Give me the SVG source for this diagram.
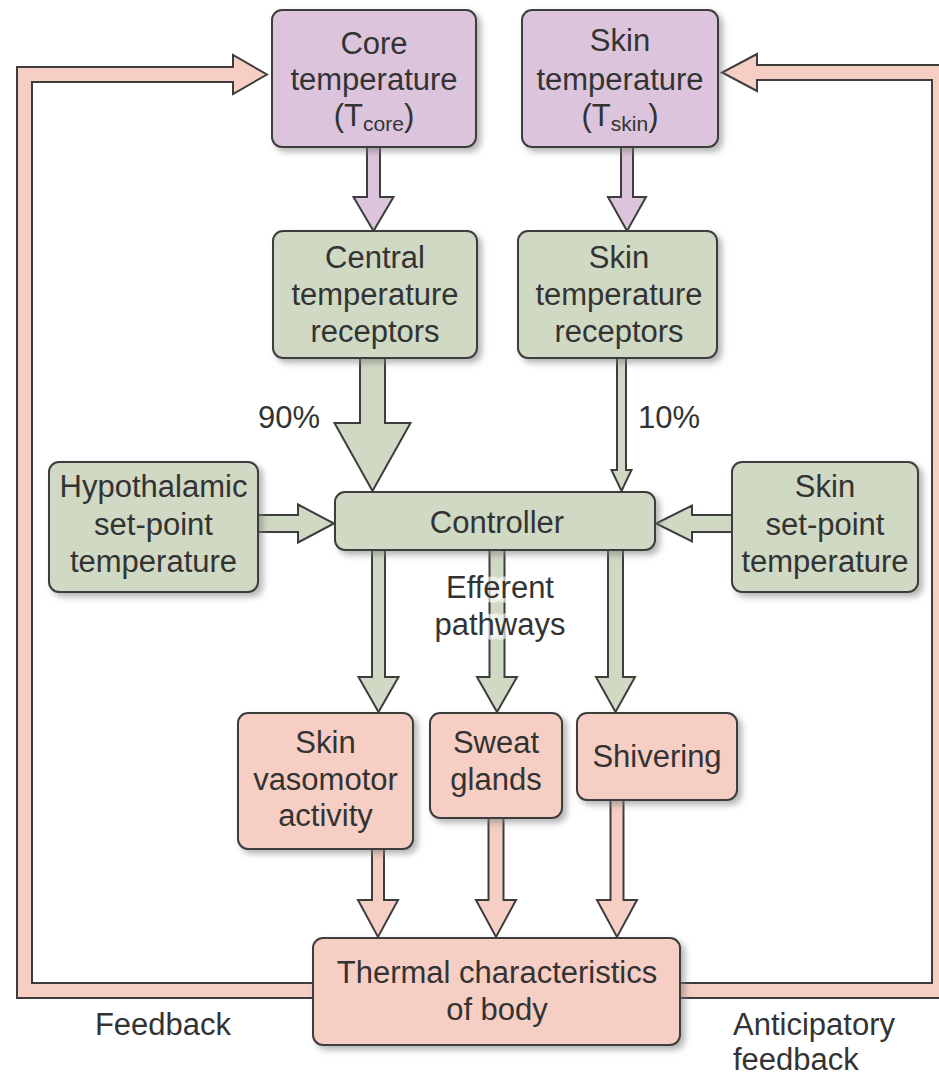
<svg xmlns="http://www.w3.org/2000/svg" width="939" height="1077" viewBox="0 0 939 1077">
<defs>
<filter id="sh" x="-10%" y="-10%" width="130%" height="140%">
<feDropShadow dx="4" dy="4" stdDeviation="3" flood-color="#777" flood-opacity="0.55"/>
</filter>
<style>
.box{stroke:#3d3d3d;stroke-width:2;filter:url(#sh)}
.pur{fill:#dcc4dc}
.grn{fill:#cfd9c3}
.pnk{fill:#f6cec4}
.arr{stroke:#3d3d3d;stroke-width:2;stroke-linejoin:miter}
.ap{fill:#dcc4dc}
.ag{fill:#cfd9c3}
.ak{fill:#f6cec4}
text{font-family:"Liberation Sans",Arial,sans-serif;font-size:31px;fill:#333;text-anchor:middle}
.lab{fill:#333}
.st{text-anchor:start}
.halo{stroke:#fff;stroke-width:9;stroke-opacity:0.65;paint-order:stroke;stroke-linejoin:round}
</style>
</defs>
<rect width="939" height="1077" fill="#fff"/>

<g id="connectors">
<path class="arr ak" d="M320 998 H17 V67 H233 V55 L267 74.5 L233 94 V82 H32 V983 H320 Z"/>
<path class="arr ak" d="M670 998 H947 V65 H757 V54 L722 72.5 L757 91 V80 H932 V983 H670 Z"/>
<path class="arr ap" d="M367 140 V197 H353.5 L373.5 231 L393.5 197 H380 V140 Z"/>
<path class="arr ap" d="M621 140 V197 H608 L627 231 L646 197 H633 V140 Z"/>
<path class="arr ag" d="M360 350 V423 H334.5 L372.5 491 L410.5 423 H385 V350 Z"/>
<path class="arr ag" d="M617 350 V470 H611.5 L621.5 491 L631.5 470 H626 V350 Z"/>
<path class="arr ag" d="M250 515 H298 V504.5 L334 523.5 L298 542.5 V532 H250 Z"/>
<path class="arr ag" d="M740 515 H692 V505.5 L656 523.5 L692 541.5 V532 H740 Z"/>
<path class="arr ag" d="M372 545 V677 H358.5 L378.5 712 L398.5 677 H385 V545 Z"/>
<path class="arr ag" d="M489.5 545 V677 H477 L497 712 L517 677 H504.5 V545 Z"/>
<path class="arr ag" d="M608 545 V677 H596 L615.5 712 L635 677 H623 V545 Z"/>
<path class="arr ak" d="M372 845 V900 H358 L378 937 L398 900 H384 V845 Z"/>
<path class="arr ak" d="M488.5 812 V900 H476 L496 937 L516 900 H503.5 V812 Z"/>
<path class="arr ak" d="M610.5 795 V900 H597 L617 937 L637 900 H623.5 V795 Z"/>
<text x="258" y="428" class="st">90%</text>
<text x="638" y="428" class="st">10%</text>
<text x="500" y="598" class="halo">Efferent</text>
<text x="500" y="635" class="halo">pathways</text>
<text x="163" y="1035">Feedback</text>
<text x="733" y="1035" class="st">Anticipatory</text>
<text x="733" y="1070" class="st">feedback</text>
</g>

<g id="core-temperature">
<rect class="box pur" x="272" y="10" width="204" height="137" rx="10"/>
<text x="374" y="54">Core</text>
<text x="374" y="90">temperature</text>
<text x="374" y="126">(T<tspan font-size="21" dy="5">core</tspan><tspan dy="-5">)</tspan></text>
</g>

<g id="skin-temperature">
<rect class="box pur" x="522" y="10" width="196" height="137" rx="10"/>
<text x="620" y="51">Skin</text>
<text x="620" y="90">temperature</text>
<text x="620" y="126">(T<tspan font-size="21" dy="5">skin</tspan><tspan dy="-5">)</tspan></text>
</g>

<g id="central-receptors">
<rect class="box grn" x="273" y="231" width="204" height="127" rx="10"/>
<text x="375" y="268">Central</text>
<text x="375" y="305">temperature</text>
<text x="375" y="342">receptors</text>
</g>

<g id="skin-receptors">
<rect class="box grn" x="518" y="231" width="199" height="127" rx="10"/>
<text x="619" y="268">Skin</text>
<text x="619" y="305">temperature</text>
<text x="619" y="342">receptors</text>
</g>

<g id="hypothalamic-setpoint">
<rect class="box grn" x="49" y="462" width="209" height="130" rx="10"/>
<text x="153.5" y="497">Hypothalamic</text>
<text x="153.5" y="535">set-point</text>
<text x="153.5" y="572">temperature</text>
</g>

<g id="skin-setpoint">
<rect class="box grn" x="732" y="462" width="186" height="130" rx="10"/>
<text x="825" y="497">Skin</text>
<text x="825" y="535">set-point</text>
<text x="825" y="572">temperature</text>
</g>

<g id="controller">
<rect class="box grn" x="335" y="492" width="320" height="58" rx="10"/>
<text x="497" y="533">Controller</text>
</g>

<g id="skin-vasomotor">
<rect class="box pnk" x="238" y="713" width="175" height="136" rx="10"/>
<text x="325.5" y="753">Skin</text>
<text x="325.5" y="790">vasomotor</text>
<text x="325.5" y="826">activity</text>
</g>

<g id="sweat-glands">
<rect class="box pnk" x="430" y="713" width="132" height="105" rx="10"/>
<text x="496" y="753">Sweat</text>
<text x="496" y="790">glands</text>
</g>

<g id="shivering">
<rect class="box pnk" x="577" y="713" width="160" height="87" rx="10"/>
<text x="657" y="767">Shivering</text>
</g>

<g id="thermal-characteristics">
<rect class="box pnk" x="313" y="938" width="367" height="107" rx="10"/>
<text x="497" y="983">Thermal characteristics</text>
<text x="497" y="1020">of body</text>
</g>
</svg>
